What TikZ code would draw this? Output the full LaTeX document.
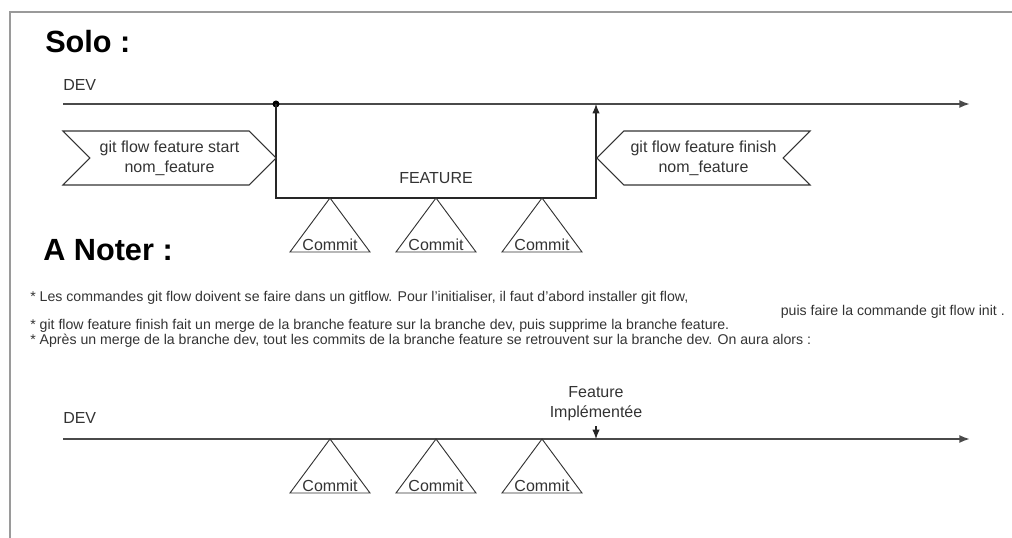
\documentclass[tikz,border=0pt]{standalone}
\usepackage{fontspec}
\setmainfont{Liberation Sans}
\usetikzlibrary{arrows.meta,positioning,shapes.symbols}

\definecolor{linegray}{HTML}{4A4A4A}
\definecolor{textgray}{HTML}{333333}
\definecolor{framegray}{HTML}{9A9A9A}

\tikzset{
  title/.style={anchor=west, inner sep=0pt, font=\fontsize{23}{26}\selectfont\bfseries},
  lbl/.style={inner sep=0pt, align=center, text=textgray, font=\fontsize{12}{15}\selectfont},
  note/.style={inner sep=0pt, text=textgray, font=\fontsize{10.6}{13}\selectfont},
  devline/.style={draw=linegray, line width=1.4pt, -{Latex[length=8pt,width=6pt]}},
  branch/.style={draw=black!85, line width=0.8pt},
  cmdbox/.style={signal, draw=black!80, line width=0.8pt, minimum width=160pt,
    minimum height=40.5pt, inner sep=0pt, align=center, text=textgray,
    font=\fontsize{12}{15}\selectfont},
  tri/.style={draw=black!80, line width=0.7pt},
}

\begin{document}
\begin{tikzpicture}[x=0.75pt, y=-0.75pt, >={Latex[length=7pt,width=5.5pt]}]

  \useasboundingbox (0,0) rectangle (1012,538);
  \draw[framegray, line width=1.4pt] (10,538) -- (10,12) -- (1012,12);

  % Solo
  \node[title] (solo) at (45,42) {Solo :};
  \node[lbl, anchor=west] (devtop) at (63,85) {DEV};
  \coordinate (devstart) at (63,104);
  \coordinate (devend) at (970,104);
  \draw[devline] (devstart) -- (devend);

  \coordinate (fork) at (276,104);
  \coordinate (merge) at (596,104);
  \fill (fork) circle (3.5);
  \draw[branch, ->] (fork) -- ++(0,94) -| (merge);
  \node[lbl] (feature) at (436,178) {FEATURE};

  \node[cmdbox, signal from=west, signal to=east] (start) at (169.5,158)
    {git flow feature start\\nom\_feature};
  \node[cmdbox, signal from=east, signal to=west] (finish) at (703.5,158)
    {git flow feature finish\\nom\_feature};

  \foreach \cx [count=\i] in {330,436,542} {
    \draw[tri] (\cx,198) -- (\cx+40,252) -- (\cx-40,252) -- cycle;
    \node[lbl, anchor=base] (commit\i) at (\cx,250) {Commit};
  }

  % A Noter
  \node[title] (noter) at (43,250) {A Noter :};
  \node[note, anchor=base west] (note1) at (30,301)
    {* Les commandes git flow doivent se faire dans un gitflow. Pour l'initialiser, il faut d'abord installer git flow,};
  \node[note, anchor=base east] (note1b) at (1005,315)
    {puis faire la commande git flow init .};
  \node[note, anchor=base west] (note2) at (30,329)
    {* git flow feature finish fait un merge de la branche feature sur la branche dev, puis supprime la branche feature.};
  \node[note, anchor=base west] (note3) at (30,344)
    {* Après un merge de la branche dev, tout les commits de la branche feature se retrouvent sur la branche dev. On aura alors :};

  % resultat
  \node[lbl, anchor=west] (devbot) at (63,418) {DEV};
  \coordinate (devstart2) at (63,439);
  \coordinate (devend2) at (970,439);
  \draw[devline] (devstart2) -- (devend2);

  \node[lbl] (done) at (596,404) {Feature\\Implémentée};
  \coordinate (donept) at (596,439);
  \draw[branch, ->] (done.south) ++(0,5) -- (donept);

  \foreach \cx [count=\i] in {330,436,542} {
    \draw[tri] (\cx,439) -- (\cx+40,493) -- (\cx-40,493) -- cycle;
    \node[lbl, anchor=base] (merged\i) at (\cx,491) {Commit};
  }

\end{tikzpicture}
\end{document}
